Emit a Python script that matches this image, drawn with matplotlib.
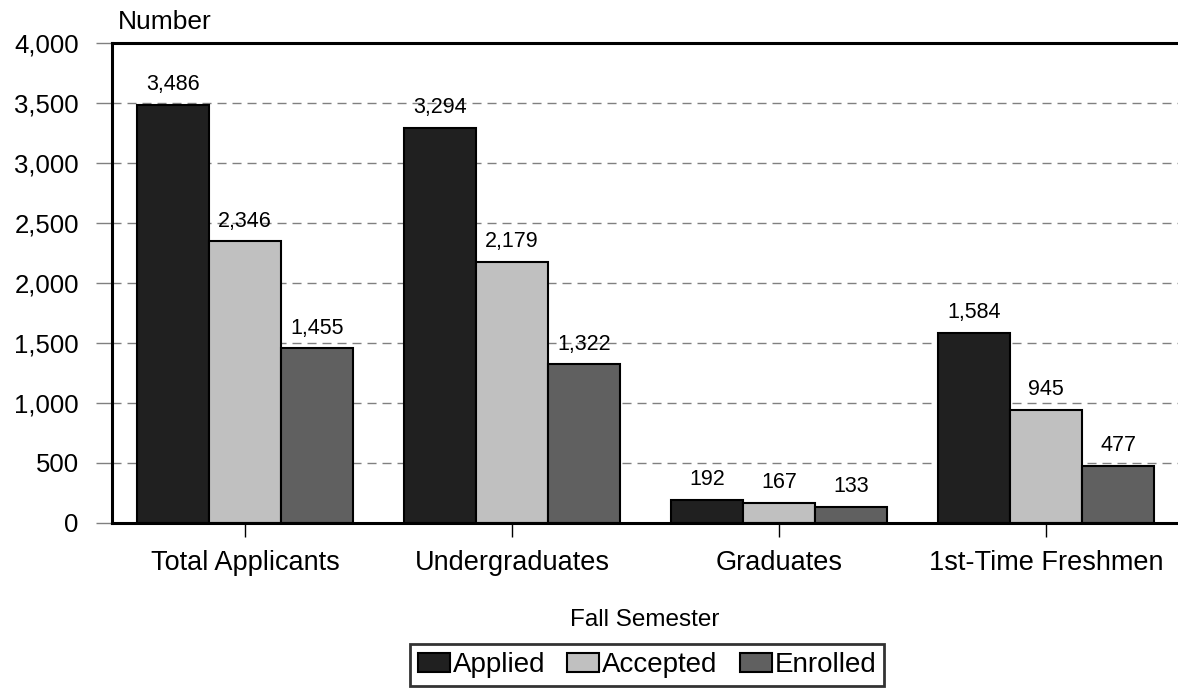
import matplotlib
matplotlib.use("Agg")
import matplotlib.pyplot as plt
import numpy as np

categories = ["Total Applicants", "Undergraduates", "Graduates", "1st-Time Freshmen"]
applied = [3486, 3294, 192, 1584]
accepted = [2346, 2179, 167, 945]
enrolled = [1455, 1322, 133, 477]
series_names = ["Applied", "Accepted", "Enrolled"]
series_colors = ["#202020", "#c0c0c0", "#606060"]
yticks = [0, 500, 1000, 1500, 2000, 2500, 3000, 3500, 4000]

plt.rcParams['font.family'] = ['Liberation Sans', 'DejaVu Sans']

fig = plt.figure(figsize=(11.78, 6.88), dpi=100)
ax = fig.add_axes([111.5/1178, 165/688, 1068/1178, 480/688])

x = np.arange(len(categories))
w = 0.27
series = [applied, accepted, enrolled]
for i, (vals, name, col) in enumerate(zip(series, series_names, series_colors)):
    bars = ax.bar(x + (i - 1) * w, vals, width=w, color=col, edgecolor="black",
                  linewidth=1.5, label=name, zorder=2)
    for b, v in zip(bars, vals):
        ax.annotate(f"{v:,}", (b.get_x() + b.get_width() / 2, b.get_height()),
                    xytext=(0, 14.5), textcoords="offset points",
                    ha="center", va="center", fontsize=15.5, zorder=3)

ax.set_xlim(-0.5, 3.5)
ax.set_ylim(0, 4000)
ax.set_yticks(yticks)
ax.set_yticklabels([f"{t:,}" for t in yticks])
ax.set_xticks(x)
ax.set_xticklabels(categories)

for t in yticks[1:-1]:
    ax.axhline(t, color="#808080", linewidth=1.0, linestyle=(0, (6.5, 4.3)), zorder=1)

ax.spines["right"].set_visible(False)
for s in ["left", "top", "bottom"]:
    ax.spines[s].set_linewidth(2.2)
    ax.spines[s].set_color("black")

ax.tick_params(axis="y", direction="out", length=11.5, width=1.0, color="#808080",
               pad=12, labelsize=18.5)
ax.tick_params(axis="x", direction="out", length=10, width=1.0, color="black",
               pad=9.5, labelsize=19.5)

fig.text(118/1178, 1 - 22/688, "Number", fontsize=19, ha="left", va="center")
fig.text(645/1178, 1 - 620/688, "Fall Semester", fontsize=17.5, ha="center", va="center")

leg = fig.legend(loc="center", bbox_to_anchor=(647/1178, 1 - 665/688), ncol=3,
                 fontsize=20, frameon=True, fancybox=False, edgecolor="black",
                 handlelength=1.15, handleheight=0.65, handletextpad=0.1,
                 columnspacing=0.8, borderpad=0.3, borderaxespad=0)
leg.get_frame().set_linewidth(2.0)

fig.savefig("out.png", dpi=100)
